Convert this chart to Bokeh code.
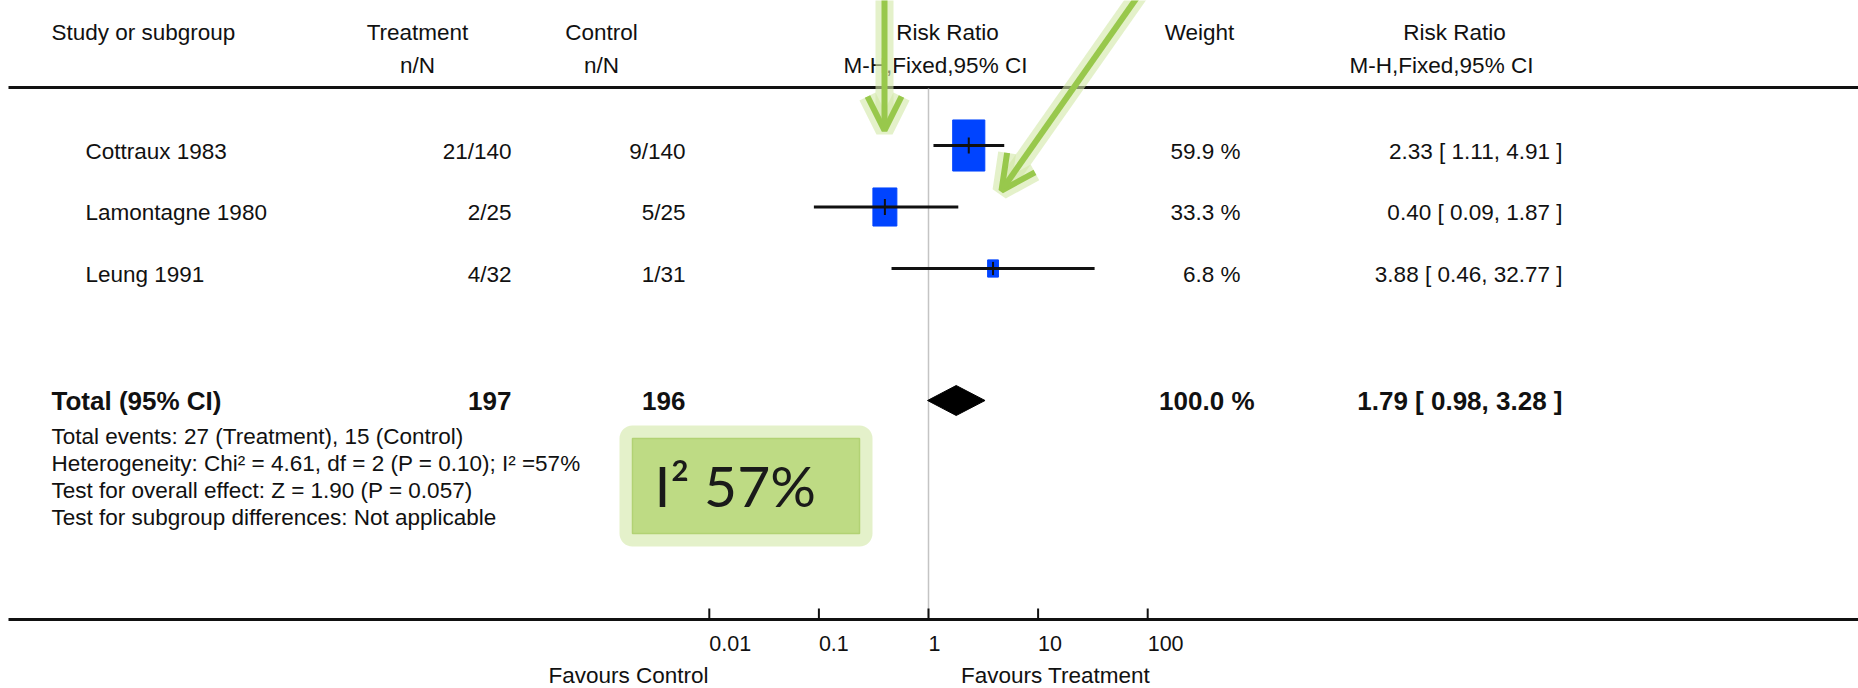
import math
from bokeh.plotting import figure
from bokeh.models import Range1d, LogScale, ColumnDataSource, Arrow, OpenHead
from bokeh.core.properties import value
from bokeh.embed import file_html
from bokeh.resources import INLINE

# ---------------- data ----------------
studies = ["Cottraux 1983", "Lamontagne 1980", "Leung 1991"]
treat_nN = ["21/140", "2/25", "4/32"]
ctrl_nN = ["9/140", "5/25", "1/31"]
rr = [2.33, 0.40, 3.88]
ci_lo = [1.11, 0.09, 0.46]
ci_hi = [4.91, 1.87, 32.77]
weights = [59.9, 33.3, 6.8]

total_label = "Total (95% CI)"
total_treat_N = 197
total_ctrl_N = 196
total_rr = 1.79
total_lo = 0.98
total_hi = 3.28
total_weight = 100.0

tick_values = [0.01, 0.1, 1, 10, 100]
tick_labels = ["0.01", "0.1", "1", "10", "100"]
favours_left = "Favours Control"
favours_right = "Favours Treatment"

footnotes = [
    "Total events: 27 (Treatment), 15 (Control)",
    "Heterogeneity: Chi\u00b2 = 4.61, df = 2 (P = 0.10); I\u00b2 =57%",
    "Test for overall effect: Z = 1.90 (P = 0.057)",
    "Test for subgroup differences: Not applicable",
]
i2_callout = "I\u00b2 57%"

# annotation arrows (start -> tip), page coordinates
arrow_x0 = [884, 1140]
arrow_y0 = [-12, -8]
arrow_x1 = [884, 1001]
arrow_y1 = [130, 190]

# ---------------- layout ----------------
W, H = 1858, 688
FONT = value("Liberation Sans")
TXT = "#111111"
FS = "22.5px"

x_one = 928.0       # page x of RR = 1
decade = 109.6      # pixels per decade

p = figure(width=W, height=H, output_backend="svg", toolbar_location=None,
           x_range=Range1d(0, W), y_range=Range1d(H, 0),
           min_border=0, outline_line_color=None,
           extra_x_ranges={"log": Range1d(10 ** (-x_one / decade), 10 ** ((W - x_one) / decade))},
           extra_x_scales={"log": LogScale()})
p.axis.visible = False
p.grid.visible = False
p.background_fill_color = "white"
p.border_fill_color = "white"

row_y = [145 + 61.5 * i for i in range(len(studies))]
text_y = [y + 5.5 for y in row_y]

# header
hdr = ColumnDataSource(dict(
    x=[51, 417, 601, 947, 1199, 1454, 417, 601, 935, 1441],
    y=[32, 32, 32, 32, 32, 32, 65, 65, 65, 65],
    t=["Study or subgroup", "Treatment", "Control", "Risk Ratio", "Weight", "Risk Ratio",
       "n/N", "n/N", "M-H,Fixed,95% CI", "M-H,Fixed,95% CI"],
    a=["left", "center", "center", "center", "center", "center", "center", "center", "center", "center"],
))
p.text(x="x", y="y", text="t", text_align="a", source=hdr, text_baseline="middle",
       text_font=FONT, text_font_size=FS, text_color=TXT)

# horizontal rules
p.segment(x0=[8, 8], x1=[W, W], y0=[87, 619], y1=[87, 619], line_color="#111111", line_width=3)

# reference line at RR = 1
p.segment(x0=[1], x1=[1], y0=[88], y1=[617], line_color="#c4c4c4", line_width=1.5, x_range_name="log")

# study rows text
src = ColumnDataSource(dict(
    study=studies, tn=treat_nN, cn=ctrl_nN,
    w=[f"{w:.1f} %" for w in weights],
    ci=[f"{r:.2f} [ {lo:.2f}, {hi:.2f} ]" for r, lo, hi in zip(rr, ci_lo, ci_hi)],
    ty=text_y, y=row_y, rr=rr, lo=ci_lo, hi=ci_hi,
    bw=[4.15 * math.sqrt(w) for w in weights],
    bh=[6.6 * math.sqrt(w) for w in weights],
    th=[min(16, 6.6 * math.sqrt(w) - 4) for w in weights],
))
common = dict(source=src, text_baseline="middle", text_font=FONT, text_font_size=FS, text_color=TXT)
p.text(x=85, y="ty", text="study", text_align="left", **common)
p.text(x=511, y="ty", text="tn", text_align="right", **common)
p.text(x=685, y="ty", text="cn", text_align="right", **common)
p.text(x=1240, y="ty", text="w", text_align="right", **common)
p.text(x=1562, y="ty", text="ci", text_align="right", **common)

# forest marks
p.rect(x="rr", y="y", width="bw", height="bh", width_units="screen", height_units="screen",
       source=src, fill_color="#0044ff", line_color="#0044ff", x_range_name="log")
p.segment(x0="lo", x1="hi", y0="y", y1="y", source=src, line_color="#111111", line_width=3,
          x_range_name="log")
p.scatter(x="rr", y="y", size="th", marker="dash", angle=math.pi / 2, source=src,
          line_color="#111111", line_width=2, x_range_name="log")

# total row
ty_total = 400
bold = dict(text_baseline="middle", text_font=FONT, text_font_size="26px",
            text_font_style="bold", text_color=TXT)
p.text(x=[51], y=[ty_total], text=[total_label], text_align="left", **bold)
p.text(x=[511], y=[ty_total], text=[str(total_treat_N)], text_align="right", **bold)
p.text(x=[685], y=[ty_total], text=[str(total_ctrl_N)], text_align="right", **bold)
p.text(x=[1254], y=[ty_total], text=[f"{total_weight:.1f} %"], text_align="right", **bold)
p.text(x=[1562], y=[ty_total], text=[f"{total_rr:.2f} [ {total_lo:.2f}, {total_hi:.2f} ]"],
       text_align="right", **bold)
dh = 15
p.patch(x=[total_lo, total_rr, total_hi, total_rr], y=[ty_total, ty_total - dh, ty_total, ty_total + dh],
        fill_color="#000000", line_color="#000000", x_range_name="log")

# footnotes
p.text(x=51, y=[436 + 27 * i for i in range(len(footnotes))], text=footnotes, text_align="left",
       text_baseline="middle", text_font=FONT, text_font_size=FS, text_color=TXT)

# axis ticks and labels
p.segment(x0=tick_values, x1=tick_values, y0=[619] * len(tick_values), y1=[608] * len(tick_values),
          line_color="#111111", line_width=2, x_range_name="log")
p.text(x=tick_values, y=[643] * len(tick_values), text=tick_labels, text_align="left",
       text_baseline="middle", text_font=FONT, text_font_size="21.5px", text_color=TXT,
       x_range_name="log")
p.text(x=[628, 1055], y=[675, 675], text=[favours_left, favours_right], text_align="center",
       text_baseline="middle", text_font=FONT, text_font_size=FS, text_color=TXT)

# I² callout box with glow
p.rect(x=[745.5], y=[485.5], width=[227], height=[95], fill_color="#dcedba", fill_alpha=0.7,
       line_color="#d6eaae", line_alpha=0.65, line_width=26, line_join="round")
p.rect(x=[745.5], y=[485.5], width=[227], height=[95], fill_color="#bedb84",
       line_color="#b2d274", line_width=1.5)
p.text(x=[654], y=[484], text=[i2_callout], text_align="left", text_baseline="middle",
       text_font=value("Lato"), text_font_size="57px", text_color="#1a1a1a")

# green arrows with glow
for i in range(len(arrow_x0)):
    p.add_layout(Arrow(x_start=arrow_x0[i], y_start=arrow_y0[i], x_end=arrow_x1[i], y_end=arrow_y1[i],
                       line_color="#d2e8a6", line_alpha=0.6, line_width=18,
                       end=OpenHead(size=34, line_color="#d2e8a6", line_alpha=0.6, line_width=18)))
for i in range(len(arrow_x0)):
    p.add_layout(Arrow(x_start=arrow_x0[i], y_start=arrow_y0[i], x_end=arrow_x1[i], y_end=arrow_y1[i],
                       line_color="#98c84c", line_width=6,
                       end=OpenHead(size=34, line_color="#98c84c", line_width=6)))

open("out.html", "w").write(file_html(p, INLINE))
